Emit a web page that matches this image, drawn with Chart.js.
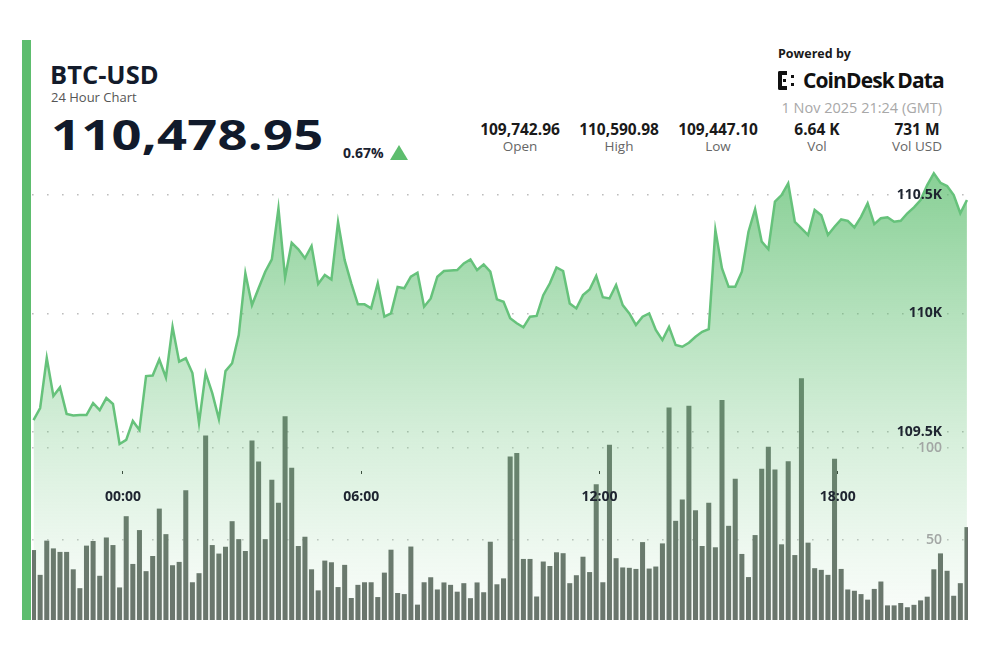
<!DOCTYPE html>
<html>
<head>
<meta charset="utf-8">
<script src="https://cdn.jsdelivr.net/npm/chart.js@4.4.1/dist/chart.umd.min.js"></script>
<style>
  body { margin: 0; background: #fff; font-family: 'Open Sans', sans-serif; }
  #wrap { position: relative; width: 990px; height: 660px; overflow: hidden; background: #fff; }
  .abs { position: absolute; line-height: 1; white-space: nowrap; }
  .accent { position: absolute; left: 22px; top: 40px; width: 9px; height: 580px; background: #5dbd6e; }
  .sym { left: 50px; top: 62px; font-size: 25.5px; font-weight: 700; color: #131b2b; }
  .sub { left: 51px; top: 91px; font-size: 13px; color: #555; }
  .last { left: 51px; top: 113px; font-size: 42px; font-weight: 700; color: #111a2b; transform: scaleX(1.25); transform-origin: left top; letter-spacing: 0.2px; }
  .chg { left: 343px; top: 146px; font-size: 14px; font-weight: 700; color: #1a2230; }
  .tri { position: absolute; left: 390px; top: 145px; width: 0; height: 0; border-left: 9px solid transparent; border-right: 9px solid transparent; border-bottom: 15px solid #5dbd6e; }
  .pow { left: 778px; top: 48px; font-size: 12.5px; font-weight: 700; color: #1a1a1a; }
  .logo { left: 803px; top: 69.5px; font-size: 21px; font-weight: 700; color: #111; letter-spacing: -0.9px; word-spacing: -1px; }
  .ico { position: absolute; left: 778px; top: 71px; width: 20px; height: 19px; }
  .ico .b { position: absolute; left: 0; top: 0; width: 5px; height: 11px; border: 4px solid #111; border-right: none; border-radius: 2px 0 0 2px; }
  .ico .d { position: absolute; width: 3px; height: 3px; background: #111; }
  .date { right: 48px; top: 100.5px; font-size: 14.5px; color: #a8a8a8; }
  .stat { position: absolute; top: 121.5px; width: 100px; text-align: center; }
  .stat .v { font-size: 15.5px; font-weight: 700; color: #1a1a1a; line-height: 1; }
  .stat .l { margin-top: 2.5px; font-size: 13.5px; color: #666; line-height: 1; }
  #chartBox { position: absolute; left: 32px; top: 165px; width: 936px; height: 455px; }
</style>
</head>
<body>
<div id="wrap">
  <div class="accent"></div>
  <div class="abs sym">BTC-USD</div>
  <div class="abs sub">24 Hour Chart</div>
  <div class="abs last">110,478.95</div>
  <div class="abs chg">0.67%</div>
  <div class="tri"></div>

  <div class="abs pow">Powered by</div>
  <div class="ico"><div class="b"></div><div class="d" style="left:13px;top:4px"></div><div class="d" style="left:13px;top:12px"></div><div class="d" style="left:5px;top:8px"></div></div>
  <div class="abs logo">CoinDesk Data</div>
  <div class="abs date">1 Nov 2025 21:24 (GMT)</div>

  <div class="stat" style="left:470px"><div class="v">109,742.96</div><div class="l">Open</div></div>
  <div class="stat" style="left:569px"><div class="v">110,590.98</div><div class="l">High</div></div>
  <div class="stat" style="left:668px"><div class="v">109,447.10</div><div class="l">Low</div></div>
  <div class="stat" style="left:767px"><div class="v">6.64 K</div><div class="l">Vol</div></div>
  <div class="stat" style="left:867px"><div class="v">731 M</div><div class="l">Vol USD</div></div>

  <div id="chartBox"><canvas id="btc"></canvas></div>
</div>

<script>
// 10-minute candles, minutes relative to 00:00 of 1 Nov (first one starts the evening before)
const firstBarMinute = -135;
const barStepMinutes = 10;

// volume per 10 min (BTC)
const volume = [
  44.6, 31.2, 49.7, 45.5, 43.6, 43.6, 34.2, 24, 47, 49.5,
  30.7, 51.4, 47.3, 24.4, 62.9, 37.1, 55.4, 33.2, 41.4, 67,
  53.2, 36.4, 38.2, 76.9, 27.2, 32.1, 106.5, 47.3, 42.7, 46.4,
  60.2, 50.5, 44.1, 103.8, 92.5, 50.5, 82.6, 70.1, 116.9, 89.1,
  46.8, 51.8, 34.2, 22.8, 38.9, 38, 24.6, 36.6, 18.7, 25.8,
  27.2, 27.2, 19.2, 32.4, 44.8, 21.4, 20.8, 46.5, 15.1, 27.2,
  29.9, 23.3, 27.1, 25.8, 22.1, 26.7, 18.6, 27.1, 21.8, 49.1,
  26.1, 29.3, 95.2, 97, 39.8, 39.8, 19.5, 38.4, 36, 43.4,
  42.9, 26.7, 31, 41, 32.7, 80.1, 27.2, 101.5, 40.2, 35.2,
  35, 34.4, 48.9, 34.6, 35.7, 48.2, 121.7, 60.4, 71.9, 122.6,
  66.1, 46.8, 70.1, 46.1, 125.7, 57.7, 83.2, 42.5, 30, 52.7,
  88.5, 100.4, 88.1, 47.7, 92.6, 41.9, 137.5, 48.6, 34.8, 33.9,
  31.2, 93.9, 34.4, 23.3, 22.6, 20.8, 17.8, 23.6, 27.6, 14.7,
  14.7, 16, 13.7, 15, 17.4, 19.4, 34.2, 42.8, 33.4, 19.9,
  26.7, 57
];

// BTC-USD price at each step
const price = [
  109549, 109600, 109811, 109651, 109687, 109575, 109568, 109570, 109570, 109621,
  109591, 109642, 109617, 109448, 109465, 109545, 109507, 109735, 109737, 109805,
  109729, 109943, 109796, 109810, 109748, 109537, 109748, 109663, 109553, 109756,
  109789, 109908, 110169, 110035, 110106, 110176, 110228, 110444, 110152, 110298,
  110271, 110233, 110285, 110124, 110162, 110143, 110386, 110225, 110127, 110038,
  110038, 110021, 110127, 109986, 110000, 110112, 110106, 110155, 110172, 110028,
  110063, 110155, 110179, 110181, 110183, 110211, 110228, 110183, 110207, 110176,
  110059, 110049, 109979, 109958, 109941, 109986, 109989, 110077, 110127, 110194,
  110179, 110042, 110021, 110077, 110101, 110158, 110068, 110063, 110120, 110035,
  110000, 109951, 109986, 110000, 109930, 109887, 109943, 109866, 109859, 109876,
  109901, 109922, 109933, 110352, 110190, 110112, 110112, 110176, 110345, 110440,
  110303, 110271, 110472, 110500, 110549, 110387, 110359, 110331, 110437, 110415,
  110331, 110366, 110397, 110391, 110363, 110408, 110465, 110377, 110402, 110406,
  110387, 110391, 110423, 110448, 110479, 110542, 110592, 110552, 110538, 110500,
  110423, 110479
];

const timeTicks = [0, 360, 720, 1080];
const timeTickLabels = ['00:00', '06:00', '12:00', '18:00'];
const priceTicks = [109500, 110000, 110500];
const volumeTicks = [50, 100];

const barTimes = volume.map((_, i) => firstBarMinute + i * barStepMinutes);

// visible ranges of the three scales
const xMin = -137.3, xMax = 1276.6;
const priceMin = 108704, priceMax = 110627;
const volMin = 6.8, volMax = 252.7;

function areaFill(ctx) {
  const area = ctx.chart.chartArea;
  if (!area) return 'rgba(92,190,110,0.3)';
  const g = ctx.chart.ctx.createLinearGradient(0, area.top, 0, area.bottom);
  g.addColorStop(0, 'rgba(92,190,110,0.74)');
  g.addColorStop(0.33, 'rgba(92,190,110,0.46)');
  g.addColorStop(0.6, 'rgba(92,190,110,0.25)');
  g.addColorStop(0.87, 'rgba(92,190,110,0.09)');
  g.addColorStop(1, 'rgba(92,190,110,0.03)');
  return g;
}

// axes sit inside the plot, so they take no room in the layout
const noSize = s => { if (s.isHorizontal()) s.height = 0; else s.width = 0; };
const gridDots = { display: false, dash: [1.6, 13.4] };

new Chart(document.getElementById('btc'), {
  data: {
    labels: barTimes,
    datasets: [
      {
        type: 'line',
        data: price,
        yAxisID: 'yPrice',
        borderColor: '#66c27b',
        borderWidth: 2.5,
        pointRadius: 0,
        tension: 0,
        fill: 'start',
        backgroundColor: areaFill,
        order: 0
      },
      {
        type: 'bar',
        data: volume,
        yAxisID: 'yVol',
        backgroundColor: '#6b736d',
        barPercentage: 0.76,
        categoryPercentage: 1,
        order: 1
      }
    ]
  },
  options: {
    responsive: true,
    maintainAspectRatio: false,
    animation: false,
    layout: { padding: 0, autoPadding: false },
    plugins: { legend: { display: false }, tooltip: { enabled: false } },
    scales: {
      x: {
        type: 'linear',
        position: { yVol: 87.3 },
        offset: false,
        min: xMin,
        max: xMax,
        afterFit: noSize,
        afterBuildTicks: s => { s.ticks = timeTicks.map(v => ({ value: v })); },
        grid: { offset: false, drawOnChartArea: false, drawTicks: true, tickLength: 3, tickColor: '#333', tickWidth: 1 },
        border: { display: false },
        ticks: {
          z: 1,
          padding: 15,
          maxRotation: 0,
          autoSkip: false,
          color: '#1e2430',
          font: { family: 'Open Sans', size: 14, weight: '700' },
          callback: (v, i) => timeTickLabels[i]
        }
      },
      yPrice: {
        type: 'linear',
        position: 'right',
        min: priceMin,
        max: priceMax,
        afterFit: noSize,
        afterBuildTicks: s => { s.ticks = priceTicks.map(v => ({ value: v })); },
        grid: { color: '#bdbdbd', lineWidth: 1.6, drawTicks: false },
        border: gridDots,
        ticks: {
          mirror: true,
          z: 1,
          padding: -26,
          color: '#1e2430',
          font: { family: 'Open Sans', size: 14, weight: '700' },
          callback: v => (v / 1000) + 'K'
        }
      },
      yVol: {
        type: 'linear',
        position: 'right',
        min: volMin,
        max: volMax,
        afterFit: noSize,
        afterBuildTicks: s => { s.ticks = volumeTicks.map(v => ({ value: v })); },
        grid: { color: '#c6c6c6', lineWidth: 1.6, drawTicks: false },
        border: gridDots,
        ticks: {
          mirror: true,
          z: 1,
          padding: -26,
          color: '#a2a6a4',
          font: { family: 'Open Sans', size: 14, weight: '600' },
          callback: v => String(v)
        }
      }
    }
  }
});
</script>
</body>
</html>
